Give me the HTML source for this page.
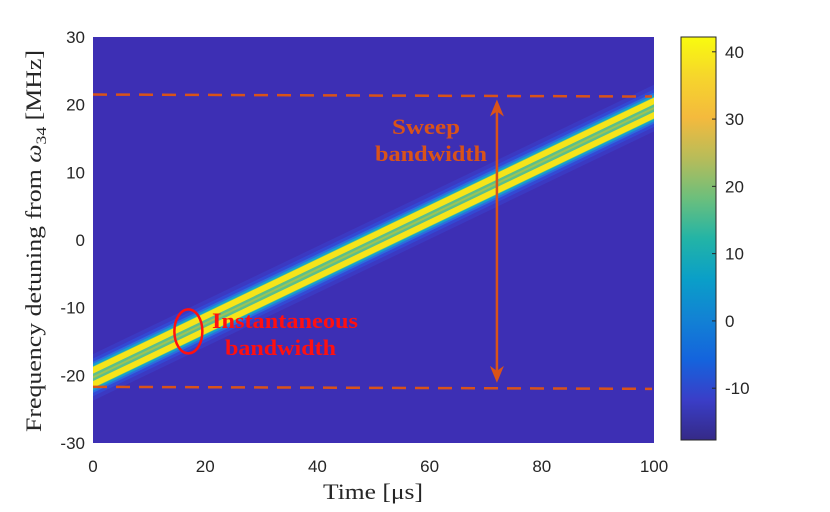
<!DOCTYPE html>
<html><head><meta charset="utf-8"><style>
body{margin:0;background:#fff;width:830px;height:507px;overflow:hidden}
svg text{font-family:"Liberation Sans",sans-serif}
.serif{font-family:"Liberation Serif",serif}
</style></head><body>
<svg id="chart" width="830" height="507" xmlns="http://www.w3.org/2000/svg">
<defs>
<linearGradient id="parula" x1="0" y1="1" x2="0" y2="0">
<stop offset="0" stop-color="#352a87"/>
<stop offset="0.1" stop-color="#3a3ec8"/>
<stop offset="0.2" stop-color="#1464dd"/>
<stop offset="0.3" stop-color="#1282d4"/>
<stop offset="0.4" stop-color="#0a9fc8"/>
<stop offset="0.5" stop-color="#23b4a6"/>
<stop offset="0.6" stop-color="#6cbf7c"/>
<stop offset="0.7" stop-color="#b8bc59"/>
<stop offset="0.8" stop-color="#f4ba3d"/>
<stop offset="0.9" stop-color="#f6d52c"/>
<stop offset="1" stop-color="#f9fb0e"/>
</linearGradient>
<clipPath id="plotclip"><rect x="93" y="37" width="561" height="406"/></clipPath>
</defs>
<g id="plot"></g>
<g id="axes"></g>
<g id="cbar"></g>
</svg>
<script>
const xTicks=[0,20,40,60,80,100];
const yTicks=[30,20,10,0,-10,-20,-30];
const cbTicks=[40,30,20,10,0,-10];
const cbRange=[-17.7,42.2];
const chirpTime=[0,100];
const chirpFreq=[-20.3,19.5];
const lineOffsets=[-1.05,1.05];
const sweepTop=[21.5,21.2];
const sweepBottom=[-21.7,-22.0];
const arrowTime=[72];
const ellipseCenter=[17,-13.5];

const NS="http://www.w3.org/2000/svg";
const X0=93,X1=654,Y0=37,Y1=443;
const xs=t=>X0+(t-0)/(100-0)*(X1-X0);
const ys=f=>Y1-(f+30)/60*(Y1-Y0);
function mk(tag,attrs,parent){const e=document.createElementNS(NS,tag);for(const k in attrs)e.setAttribute(k,attrs[k]);parent.appendChild(e);return e;}
const plot=document.getElementById('plot');
const axes=document.getElementById('axes');
const cbar=document.getElementById('cbar');

const bg=mk('rect',{x:X0,y:Y0,width:X1-X0,height:Y1-Y0,fill:'#3d2fb4'},plot);


const g=mk('g',{'clip-path':'url(#plotclip)'},plot);
const xa=xs(chirpTime[0]-2),xb=xs(chirpTime[1]+2);
const slope=(chirpFreq[1]-chirpFreq[0])/(chirpTime[1]-chirpTime[0]);
const fa=chirpFreq[0]-2*slope,fb=chirpFreq[1]+2*slope;
const layers=[[42,'#3b40cc',0.6],[34,'#3050dc',0.7],[28,'#2a78e0',0.8],[24,'#16a0cc',1],[20,'#5cbf8a',1]];
layers.forEach(([w,c,o])=>{
  const l=mk('line',{x1:xa,y1:ys(fa),x2:xb,y2:ys(fb),stroke:c,'stroke-width':w,opacity:o},g);
  
  
});
lineOffsets.forEach(off=>{
  const l=mk('line',{x1:xa,y1:ys(fa+off),x2:xb,y2:ys(fb+off),stroke:'#f6e41a','stroke-width':6},g);
  
  
});
const cl=mk('line',{x1:xa,y1:ys(fa),x2:xb,y2:ys(fb),stroke:'#9cc455','stroke-width':2},g);



[sweepTop,sweepBottom].forEach((d,i)=>{
  const l=mk('line',{x1:X0,y1:ys(d[0]),x2:X1-2,y2:ys(d[1]),stroke:'#d95319','stroke-width':2.5,'stroke-dasharray':'14 9'},plot);
  
  
});
const ax=xs(arrowTime[0]);
const ya=ys(sweepTop[0])+5,yb=ys(sweepBottom[0])-4;
const arr=mk('g',{},plot);


mk('line',{x1:ax,y1:ya+10,x2:ax,y2:yb-10,stroke:'#d95319','stroke-width':2.5},arr);
mk('polygon',{points:`${ax},${ya} ${ax-7},${ya+17} ${ax},${ya+12} ${ax+7},${ya+17}`,fill:'#d95319'},arr);
mk('polygon',{points:`${ax},${yb} ${ax-7},${yb-17} ${ax},${yb-12} ${ax+7},${yb-17}`,fill:'#d95319'},arr);

const el=mk('ellipse',{cx:xs(ellipseCenter[0]),cy:ys(ellipseCenter[1]),rx:14,ry:22,fill:'none',stroke:'#ff1010','stroke-width':2.5},plot);



function txt(s,attrs,parent,name){const t=mk('text',attrs,parent);t.textContent=s;return t;}
const ann={'font-size':22,'font-weight':'bold',class:'serif',lengthAdjust:'spacingAndGlyphs'};
txt('Sweep',Object.assign({x:392,y:134,fill:'#d95319',textLength:68},ann),plot,'sweep-label-1');
txt('bandwidth',Object.assign({x:375,y:161,fill:'#d95319',textLength:112},ann),plot,'sweep-label-2');
txt('Instantaneous',Object.assign({x:212,y:328,fill:'#ff1010',textLength:146},ann),plot,'instantaneous-label-1');
txt('bandwidth',Object.assign({x:225,y:355,fill:'#ff1010',textLength:111},ann),plot,'instantaneous-label-2');

xTicks.forEach(t=>{txt(String(t),{x:xs(t),y:472,'text-anchor':'middle','font-size':17,fill:'#262626'},axes,'x-tick-label');});
yTicks.forEach(f=>{txt(String(f),{x:85,y:ys(f)+6,'text-anchor':'end','font-size':17,fill:'#262626'},axes,'y-tick-label');});
txt('Time [μs]',{x:323,y:499,'font-size':22,fill:'#262626',class:'serif',textLength:100,lengthAdjust:'spacingAndGlyphs'},axes,'x-axis-title');
const yl=txt('',{x:0,y:0,'font-size':22,fill:'#262626',class:'serif',textLength:382,lengthAdjust:'spacingAndGlyphs',transform:'translate(41,432) rotate(-90)'},axes,'y-axis-title');
yl.innerHTML='Frequency detuning from <tspan font-style="italic">ω</tspan><tspan font-size="15" dy="5">34</tspan><tspan dy="-5"> [MHz]</tspan>';

const CX=681,CW=35,CY0=37,CY1=440;
const cy=v=>CY1-(v-cbRange[0])/(cbRange[1]-cbRange[0])*(CY1-CY0);
const cr=mk('rect',{x:CX,y:CY0,width:CW,height:CY1-CY0,fill:'url(#parula)',stroke:'#262626','stroke-width':1},cbar);


cbTicks.forEach(v=>{
  const tk=mk('line',{x1:CX+CW-4,y1:cy(v),x2:CX+CW,y2:cy(v),stroke:'#262626','stroke-width':1},cbar);
  
  
  txt(String(v),{x:CX+CW+9,y:cy(v)+6,'font-size':17,fill:'#262626'},cbar,'colorbar-tick-label');
});
</script>
</body></html>
